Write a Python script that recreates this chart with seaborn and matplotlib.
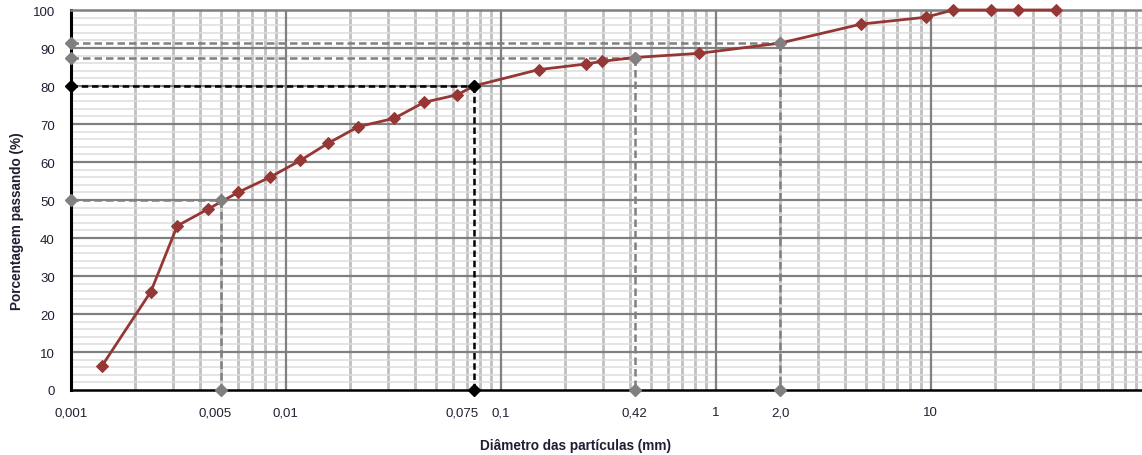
import numpy as np
import pandas as pd
import seaborn as sns
import matplotlib
matplotlib.use("Agg")
import matplotlib.pyplot as plt
from matplotlib.ticker import LogLocator, MultipleLocator, NullFormatter
from matplotlib.transforms import blended_transform_factory, offset_copy

# Granulometric curve: particle diameter (mm) vs. percentage passing (%)
diametro = [0.0014, 0.00236, 0.00313, 0.00435, 0.0060, 0.00845, 0.0117, 0.0157,
            0.0218, 0.032, 0.044, 0.0629, 0.075, 0.15, 0.25, 0.297, 0.42, 0.84,
            2.0, 4.76, 9.5, 12.7, 19.1, 25.4, 38.1]
passando = [6.4, 25.9, 43.2, 47.6, 52.0, 56.0, 60.4, 64.9, 69.3, 71.5, 75.7, 77.7,
            80.0, 84.3, 85.8, 86.5, 87.5, 88.6, 91.3, 96.3, 98.1, 100, 100, 100, 100]

# Reference readings marked with dashed guides
ref_diam = [0.005, 0.075, 0.42, 2.0]
ref_pass = [50.0, 80.0, 87.5, 91.3]
ref_cor = ["#808080", "#000000", "#808080", "#808080"]

# Labels along the diameter axis
xlabels_val = [0.001, 0.005, 0.01, 0.075, 0.1, 0.42, 1, 2.0, 10]
xlabels_txt = ["0,001", "0,005", "0,01", "0,075", "0,1", "0,42", "1", "2,0", "10"]
xlabel_nudge = {"0,005": -6, "0,075": -12}

sns.set_style("white")
plt.rcParams["font.family"] = ["Liberation Sans", "DejaVu Sans"]

fig = plt.figure(figsize=(11.42, 4.56), dpi=100)
ax = fig.add_axes([70.7 / 1142, 65 / 456, 1075 / 1142, 380 / 456])

ax.set_xscale("log")
ax.set_xlim(0.001, 100)
ax.set_ylim(0, 100)

ax.xaxis.set_major_locator(LogLocator(base=10, numticks=10))
ax.xaxis.set_minor_locator(LogLocator(base=10, subs=np.arange(2, 10), numticks=100))
ax.xaxis.set_major_formatter(NullFormatter())
ax.xaxis.set_minor_formatter(NullFormatter())
ax.yaxis.set_major_locator(MultipleLocator(10))
ax.yaxis.set_minor_locator(MultipleLocator(2))

# light minor grid underneath, darker major grid on top of it
ax.set_axisbelow(True)
ax.xaxis.grid(True, which="minor", color="#c0c0c0", lw=2.0)
ax.yaxis.grid(True, which="minor", color="#dcdcdc", lw=1.1)
ax.xaxis.grid(False, which="major")
ax.yaxis.grid(False, which="major")
for xv in [0.001, 0.01, 0.1, 1, 10]:
    ax.axvline(xv, color="#808080", lw=1.6, zorder=1)
for yv in range(10, 100, 10):
    ax.axhline(yv, color="#808080", lw=1.6, zorder=1)

for s in ["left", "bottom"]:
    ax.spines[s].set_color("black")
    ax.spines[s].set_zorder(2)
ax.spines["left"].set_linewidth(2.2)
ax.spines["bottom"].set_linewidth(1.8)
ax.spines["top"].set_color("#808080")
ax.spines["top"].set_linewidth(1.8)
ax.spines["right"].set_visible(False)

txt_color = "#1f1f33"
ax.tick_params(axis="y", which="major", direction="out", length=3.5, width=1.5,
               color="black", labelsize=9.5, labelcolor=txt_color, pad=8)
ax.tick_params(axis="y", which="minor", length=0)
ax.tick_params(axis="x", which="major", direction="out", length=4, width=1.5, color="black")
ax.tick_params(axis="x", which="minor", direction="in", length=2.5, width=1.2, color="black")

# dashed guides from the axes to the curve
for d, p, c in zip(ref_diam, ref_pass, ref_cor):
    dashes = (2.6, 1.5) if c == "#000000" else (3.0, 1.6)
    ax.plot([0.001, d], [p, p], color=c, lw=1.8, dashes=dashes, zorder=3, clip_on=False)
    ax.plot([d, d], [p, 0], color=c, lw=1.8, dashes=dashes, zorder=3, clip_on=False)

# main curve
df = pd.DataFrame({"diametro": diametro, "passando": passando})
sns.lineplot(data=df, x="diametro", y="passando", ax=ax, sort=False,
             color="#953735", lw=2.0, marker="D", markersize=6.3,
             markeredgecolor="#953735", zorder=4, clip_on=False)

# markers at the ends of the guides
for d, p, c in zip(ref_diam, ref_pass, ref_cor):
    ax.plot([0.001, d, d], [p, p, 0], ls="none", marker="D", markersize=6.3,
            color=c, markeredgecolor=c, zorder=5, clip_on=False)

# diameter labels
trans = blended_transform_factory(ax.transData, ax.transAxes)
for v, t in zip(xlabels_val, xlabels_txt):
    tr = offset_copy(trans, fig=fig, x=xlabel_nudge.get(t, 0), y=0, units="dots")
    ax.text(v, -0.058, t, transform=tr, ha="center", va="center",
            fontsize=9.5, color=txt_color)

ax.set_xlabel("Diâmetro das partículas (mm)", fontsize=9.8, fontweight="bold",
              color=txt_color, va="center")
ax.xaxis.set_label_coords((575 - 70.7) / 1075, (391 - 446) / 380)
ax.set_ylabel("Porcentagem passando (%)", fontsize=9.8, fontweight="bold",
              color=txt_color, va="center")
ax.yaxis.set_label_coords((17 - 70.7) / 1075, (391 - 221) / 380)

fig.savefig("out.png", dpi=100)
